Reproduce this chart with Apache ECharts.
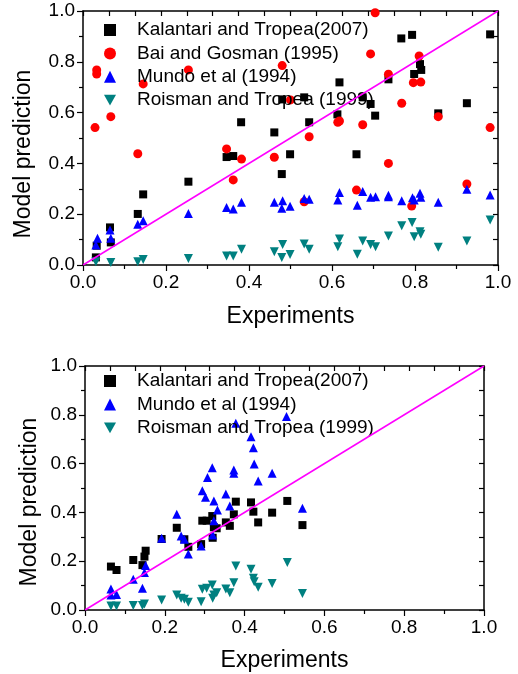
<!DOCTYPE html>
<html>
<head>
<meta charset="utf-8">
<script src="https://cdn.jsdelivr.net/npm/echarts@6/dist/echarts.min.js"></script>
<style>
html,body{margin:0;padding:0;background:#fff;}
#chart{width:518px;height:674px;}
</style>
</head>
<body>
<div id="chart"></div>
<script>
// ---- Data (x = experiments, y = model prediction) ----
const seriesNamesTop = ['Kalantari and Tropea(2007)', 'Bai and Gosman (1995)', 'Mundo et al (1994)', 'Roisman and Tropea (1999)'];
const seriesNamesBottom = ['Kalantari and Tropea(2007)', 'Mundo et al (1994)', 'Roisman and Tropea (1999)'];
const tickLabels = ['0.0', '0.2', '0.4', '0.6', '0.8', '1.0'];
const fitLine = [[0, 0], [1, 1]];

// Top panel
const kalantariTop = [[0.031,0.030],[0.033,0.076],[0.067,0.089],[0.065,0.148],[0.132,0.201],[0.145,0.278],[0.254,0.328],[0.346,0.425],[0.362,0.429],[0.381,0.562],[0.461,0.522],[0.479,0.358],[0.480,0.652],[0.499,0.436],[0.533,0.660],[0.545,0.562],[0.613,0.593],[0.618,0.719],[0.659,0.436],[0.674,0.660],[0.693,0.634],[0.704,0.588],[0.736,0.731],[0.767,0.892],[0.793,0.906],[0.798,0.752],[0.812,0.791],[0.815,0.768],[0.856,0.597],[0.925,0.637],[0.981,0.908]];
const baiTop = [[0.029,0.541],[0.033,0.768],[0.033,0.752],[0.067,0.584],[0.132,0.438],[0.145,0.713],[0.254,0.768],[0.346,0.457],[0.362,0.335],[0.382,0.417],[0.461,0.424],[0.480,0.785],[0.500,0.650],[0.533,0.249],[0.545,0.505],[0.614,0.562],[0.618,0.567],[0.659,0.295],[0.674,0.552],[0.693,0.831],[0.704,0.993],[0.736,0.751],[0.736,0.400],[0.768,0.637],[0.792,0.232],[0.796,0.718],[0.810,0.823],[0.814,0.720],[0.856,0.584],[0.925,0.319],[0.981,0.541]];
const mundoTop = [[0.031,0.079],[0.035,0.105],[0.065,0.138],[0.067,0.105],[0.132,0.160],[0.145,0.174],[0.254,0.203],[0.346,0.226],[0.362,0.220],[0.382,0.247],[0.461,0.247],[0.479,0.223],[0.481,0.253],[0.499,0.231],[0.533,0.262],[0.545,0.259],[0.614,0.256],[0.618,0.285],[0.661,0.235],[0.674,0.289],[0.693,0.267],[0.705,0.269],[0.736,0.269],[0.736,0.275],[0.768,0.253],[0.794,0.265],[0.798,0.256],[0.812,0.282],[0.814,0.267],[0.856,0.247],[0.925,0.298],[0.981,0.276]];
const roismanTop = [[0.031,0.013],[0.067,0.010],[0.132,0.013],[0.145,0.022],[0.254,0.026],[0.346,0.035],[0.362,0.035],[0.382,0.062],[0.461,0.052],[0.479,0.030],[0.481,0.081],[0.499,0.041],[0.533,0.083],[0.545,0.062],[0.614,0.072],[0.618,0.102],[0.661,0.042],[0.674,0.094],[0.693,0.081],[0.705,0.072],[0.736,0.114],[0.768,0.155],[0.793,0.167],[0.798,0.111],[0.812,0.131],[0.814,0.121],[0.856,0.070],[0.925,0.094],[0.981,0.177]];

// Bottom panel
const kalantariBottom = [[0.065,0.178],[0.079,0.164],[0.121,0.205],[0.144,0.184],[0.149,0.219],[0.152,0.243],[0.192,0.291],[0.230,0.337],[0.249,0.290],[0.259,0.259],[0.291,0.270],[0.294,0.366],[0.305,0.366],[0.319,0.385],[0.320,0.296],[0.323,0.339],[0.330,0.335],[0.353,0.359],[0.363,0.345],[0.373,0.392],[0.378,0.444],[0.416,0.441],[0.422,0.403],[0.434,0.359],[0.469,0.399],[0.507,0.447],[0.545,0.348]];
const mundoBottom = [[0.065,0.061],[0.065,0.086],[0.079,0.064],[0.121,0.126],[0.144,0.089],[0.149,0.154],[0.152,0.182],[0.192,0.294],[0.230,0.392],[0.241,0.303],[0.249,0.290],[0.259,0.230],[0.291,0.262],[0.294,0.489],[0.302,0.462],[0.307,0.543],[0.319,0.583],[0.320,0.307],[0.323,0.447],[0.323,0.366],[0.332,0.410],[0.353,0.475],[0.363,0.426],[0.373,0.574],[0.373,0.560],[0.378,0.765],[0.416,0.710],[0.422,0.665],[0.424,0.598],[0.434,0.529],[0.469,0.560],[0.505,0.793],[0.545,0.417]];
const roismanBottom = [[0.065,0.016],[0.079,0.016],[0.121,0.018],[0.144,0.018],[0.149,0.025],[0.192,0.041],[0.230,0.061],[0.241,0.048],[0.249,0.044],[0.259,0.032],[0.291,0.034],[0.294,0.085],[0.305,0.089],[0.319,0.102],[0.320,0.048],[0.323,0.061],[0.330,0.071],[0.353,0.086],[0.363,0.071],[0.373,0.112],[0.378,0.180],[0.416,0.167],[0.422,0.130],[0.424,0.116],[0.434,0.093],[0.469,0.109],[0.507,0.195],[0.545,0.068]];

// ---- Styles ----
const FONT = '"Liberation Sans", Arial, sans-serif';
const BLACK = '#000000', RED = '#ff0000', BLUE = '#0000ff', TEAL = '#008080', MAGENTA = '#ff00ff';
const DOWN_TRI = 'path://M0,0 L10,0 L5,9 Z';
const fmt = v => {
  const k = Math.round(v * 5);
  return Math.abs(v * 5 - k) < 1e-6 && tickLabels[k] !== undefined ? tickLabels[k] : '';
};

const lineStyle = { color: BLACK, width: 1.5 };

function bottomX(grid, gap) {
  return {
    type: 'value', gridIndex: grid, position: 'bottom', min: 0, max: 1, interval: 0.2,
    axisLine: { show: true, onZero: false, lineStyle },
    axisTick: { show: true, inside: false, length: 6, lineStyle: { color: BLACK, width: 1.2 } },
    minorTick: { show: true, splitNumber: 2, length: 4, lineStyle: { color: BLACK, width: 1.2 } },
    axisLabel: { show: true, formatter: fmt, fontSize: 19, fontFamily: FONT, color: BLACK, margin: 8 },
    splitLine: { show: false },
    name: 'Experiments', nameLocation: 'middle', nameGap: gap,
    nameTextStyle: { fontSize: 23, fontFamily: FONT, color: BLACK }
  };
}
function topX(grid) {
  return {
    type: 'value', gridIndex: grid, position: 'top', min: 0, max: 1, interval: 0.0625,
    axisLine: { show: true, onZero: false, lineStyle },
    axisTick: { show: true, inside: true, length: 5, lineStyle: { color: BLACK, width: 1.2 } },
    axisLabel: { show: false }, splitLine: { show: false }
  };
}
function leftY(grid) {
  return {
    type: 'value', gridIndex: grid, position: 'left', min: 0, max: 1, interval: 0.2,
    axisLine: { show: true, onZero: false, lineStyle },
    axisTick: { show: true, inside: false, length: 6, lineStyle: { color: BLACK, width: 1.2 } },
    minorTick: { show: true, splitNumber: 2, length: 4, lineStyle: { color: BLACK, width: 1.2 } },
    axisLabel: { show: true, formatter: fmt, fontSize: 19, fontFamily: FONT, color: BLACK, margin: 8 },
    splitLine: { show: false }
  };
}
function rightY(grid) {
  return {
    type: 'value', gridIndex: grid, position: 'right', min: 0, max: 1, interval: 0.1,
    axisLine: { show: true, onZero: false, lineStyle },
    axisTick: { show: true, inside: true, length: 5, lineStyle: { color: BLACK, width: 1.2 } },
    axisLabel: { show: false }, splitLine: { show: false }
  };
}

function scatter(name, data, xi, yi, symbol, size, color) {
  return {
    type: 'scatter', name, data, xAxisIndex: xi, yAxisIndex: yi,
    symbol, symbolSize: size,
    itemStyle: { color, opacity: 1 }, z: 3,
    emphasis: { disabled: true }, animation: false
  };
}
function fit(xi, yi) {
  return {
    type: 'line', name: 'fit', data: fitLine, xAxisIndex: xi, yAxisIndex: yi,
    symbol: 'none', lineStyle: { color: MAGENTA, width: 1.5 }, z: 5,
    animation: false, silent: true
  };
}

const legendCommon = {
  orient: 'vertical', itemWidth: 12, itemHeight: 12, itemGap: 4.4, padding: 0,
  textStyle: { fontSize: 19, fontFamily: FONT, color: BLACK, lineHeight: 19, padding: [0, 0, 0, 16] },
  selectedMode: false, backgroundColor: 'transparent'
};
const legendItems = names => names.map(n => n.indexOf('Roisman') === 0 ? { name: n, icon: DOWN_TRI } : { name: n });

const option = {
  backgroundColor: '#ffffff',
  animation: false,
  grid: [
    { left: 83, top: 11, width: 415, height: 254, outerBoundsMode: 'none', containLabel: false },
    { left: 85, top: 366, width: 399, height: 244, outerBoundsMode: 'none', containLabel: false }
  ],
  xAxis: [bottomX(0, 40), topX(0), bottomX(1, 39), topX(1)],
  yAxis: [leftY(0), rightY(0), leftY(1), rightY(1)],
  legend: [
    Object.assign({}, legendCommon, { left: 104, top: 20.5, data: legendItems(seriesNamesTop) }),
    Object.assign({}, legendCommon, { left: 104, top: 371.5, data: legendItems(seriesNamesBottom) })
  ],
  graphic: [
    { type: 'text', x: 24, y: 154, rotation: Math.PI / 2,
      style: { text: 'Model prediction', x: 0, y: 0, align: 'center', verticalAlign: 'middle', font: '23px ' + FONT, fill: BLACK } },
    { type: 'text', x: 30, y: 502, rotation: Math.PI / 2,
      style: { text: 'Model prediction', x: 0, y: 0, align: 'center', verticalAlign: 'middle', font: '23px ' + FONT, fill: BLACK } }
  ],
  series: [
    scatter(seriesNamesTop[0], kalantariTop, 0, 0, 'rect', 8, BLACK),
    scatter(seriesNamesTop[1], baiTop, 0, 0, 'circle', 9, RED),
    scatter(seriesNamesTop[2], mundoTop, 0, 0, 'triangle', 9, BLUE),
    scatter(seriesNamesTop[3], roismanTop, 0, 0, DOWN_TRI, 9, TEAL),
    fit(0, 0),
    scatter(seriesNamesBottom[0], kalantariBottom, 2, 2, 'rect', 8, BLACK),
    scatter(seriesNamesBottom[1], mundoBottom, 2, 2, 'triangle', 9, BLUE),
    scatter(seriesNamesBottom[2], roismanBottom, 2, 2, DOWN_TRI, 9, TEAL),
    fit(2, 2)
  ]
};

const chart = echarts.init(document.getElementById('chart'), null, { renderer: 'canvas', width: 518, height: 674 });
chart.setOption(option);
</script>
</body>
</html>
